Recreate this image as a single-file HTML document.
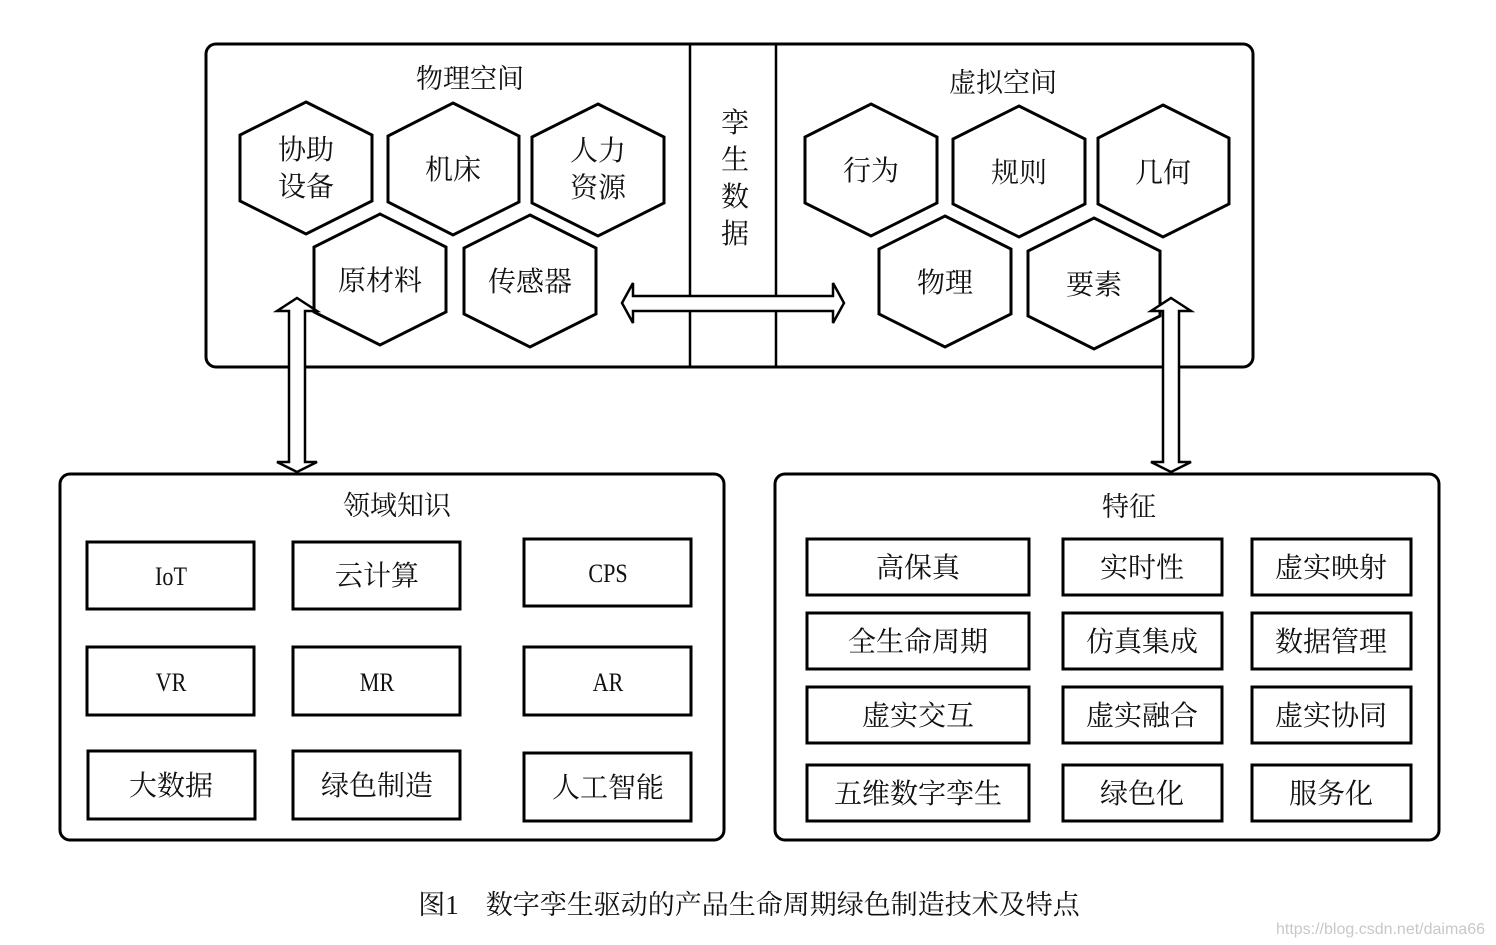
<!DOCTYPE html>
<html><head><meta charset="utf-8"><style>
html,body{margin:0;padding:0;background:#fff;}
svg{display:block;}
text{font-family:"Liberation Serif","Noto Serif CJK SC",serif;fill:#111;}
</style></head><body>
<svg width="1496" height="945" viewBox="0 0 1496 945" xmlns="http://www.w3.org/2000/svg">
<g fill="none" stroke="#000">
<rect x="206" y="44" width="1047" height="323" rx="10" stroke-width="3"/>
<line x1="690" y1="44" x2="690" y2="367" stroke-width="2.5"/>
<line x1="776" y1="44" x2="776" y2="367" stroke-width="2.5"/>
<rect x="60" y="474" width="664" height="366" rx="10" stroke-width="3"/>
<rect x="775" y="474" width="664" height="366" rx="10" stroke-width="3"/>
</g>
<g fill="#fff" stroke="#000" stroke-width="3">
<polygon points="306,102 372,135 372,201 306,234 240,201 240,135"/>
<polygon points="453,103 519,136 519,202 453,235 388,202 388,136"/>
<polygon points="598,104 664,137 664,203 598,236 532,203 532,137"/>
<polygon points="380,214 446,247 446,312 380,345 314,312 314,247"/>
<polygon points="530,215 596,248 596,314 530,347 464,314 464,248"/>
<polygon points="871,104 937,137 937,203 871,236 805,203 805,137"/>
<polygon points="1019,106 1085,139 1085,204 1019,237 953,204 953,139"/>
<polygon points="1163,105 1229,138 1229,204 1163,237 1098,204 1098,138"/>
<polygon points="945,216 1011,249 1011,314 945,347 879,314 879,249"/>
<polygon points="1094,218 1160,251 1160,316 1094,349 1028,316 1028,251"/>
<polygon points="622,303 633,283 633,296 833,296 833,283 844,303 833,323 833,311 633,311 633,323" stroke-width="2.5"/>
<polygon points="297,298 317,311 305,311 305,462 317,462 297,472 277,462 289,462 289,311 277,311" stroke-width="2.5"/>
<polygon points="1171,298 1191,311 1179,311 1179,462 1191,462 1171,472 1151,462 1163,462 1163,311 1151,311" stroke-width="2.5"/>
</g>
<g fill="none" stroke="#000" stroke-width="3">
<rect x="87" y="542" width="167" height="67"/>
<rect x="293" y="542" width="167" height="67"/>
<rect x="524" y="539" width="167" height="67"/>
<rect x="87" y="647" width="167" height="68"/>
<rect x="293" y="647" width="167" height="68"/>
<rect x="524" y="647" width="167" height="68"/>
<rect x="88" y="751" width="167" height="68"/>
<rect x="293" y="751" width="167" height="68"/>
<rect x="524" y="753" width="167" height="68"/>
<rect x="807" y="539" width="222" height="56"/>
<rect x="1063" y="539" width="159" height="56"/>
<rect x="1252" y="539" width="159" height="56"/>
<rect x="807" y="613" width="222" height="56"/>
<rect x="1063" y="613" width="159" height="56"/>
<rect x="1252" y="613" width="159" height="56"/>
<rect x="807" y="687" width="222" height="56"/>
<rect x="1063" y="687" width="159" height="56"/>
<rect x="1252" y="687" width="159" height="56"/>
<rect x="807" y="765" width="222" height="56"/>
<rect x="1063" y="765" width="159" height="56"/>
<rect x="1252" y="765" width="159" height="56"/>
</g>
<g font-size="28" text-anchor="middle">
<text x="470" y="88" font-size="27">物理空间</text>
<text x="1003" y="92" font-size="27">虚拟空间</text>
<text x="735" y="132">孪</text>
<text x="735" y="169">生</text>
<text x="735" y="206">数</text>
<text x="735" y="243">据</text>
<text x="306" y="159">协助</text>
<text x="306" y="196">设备</text>
<text x="453" y="179">机床</text>
<text x="598" y="160">人力</text>
<text x="598" y="197">资源</text>
<text x="380" y="290">原材料</text>
<text x="530" y="291">传感器</text>
<text x="871" y="180">行为</text>
<text x="1019" y="182">规则</text>
<text x="1163" y="182">几何</text>
<text x="945" y="292">物理</text>
<text x="1094" y="294">要素</text>
<text x="397" y="515" font-size="27">领域知识</text>
<text x="1129" y="516" font-size="27">特征</text>
<text x="171" y="585" font-size="26" transform="translate(171 0) scale(0.85 1) translate(-171 0)">IoT</text>
<text x="377" y="585">云计算</text>
<text x="608" y="582" font-size="26" transform="translate(608 0) scale(0.85 1) translate(-608 0)">CPS</text>
<text x="171" y="691" font-size="26" transform="translate(171 0) scale(0.85 1) translate(-171 0)">VR</text>
<text x="377" y="691" font-size="26" transform="translate(377 0) scale(0.85 1) translate(-377 0)">MR</text>
<text x="608" y="691" font-size="26" transform="translate(608 0) scale(0.85 1) translate(-608 0)">AR</text>
<text x="171" y="795">大数据</text>
<text x="377" y="795">绿色制造</text>
<text x="608" y="797">人工智能</text>
<text x="918" y="577">高保真</text>
<text x="1142" y="577">实时性</text>
<text x="1331" y="577">虚实映射</text>
<text x="918" y="651">全生命周期</text>
<text x="1142" y="651">仿真集成</text>
<text x="1331" y="651">数据管理</text>
<text x="918" y="725">虚实交互</text>
<text x="1142" y="725">虚实融合</text>
<text x="1331" y="725">虚实协同</text>
<text x="918" y="803">五维数字孪生</text>
<text x="1142" y="803">绿色化</text>
<text x="1331" y="803">服务化</text>
<text x="749" y="914" font-size="27">图1　数字孪生驱动的产品生命周期绿色制造技术及特点</text>
</g>
<text x="1485" y="934" font-size="16" text-anchor="end" style="font-family:'Liberation Sans',sans-serif;fill:#c8c8c8">https://blog.csdn.net/daima66</text>
</svg>
</body></html>
